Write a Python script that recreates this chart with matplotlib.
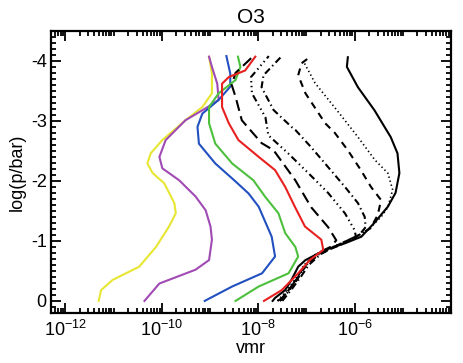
import numpy as np
import matplotlib.pyplot as plt
from matplotlib.ticker import FixedLocator, LogLocator, MultipleLocator, NullFormatter

plt.rcParams['font.family'] = ['Liberation Sans', 'DejaVu Sans']
plt.rcParams['mathtext.fontset'] = 'custom'
plt.rcParams['mathtext.rm'] = 'Liberation Sans'
plt.rcParams['mathtext.default'] = 'regular'
plt.rcParams['axes.unicode_minus'] = False
plt.rcParams['lines.scale_dashes'] = False

# perfiles: log10(vmr) y log10(p/bar)
amarillo_x = [-11.31, -11.26, -11.02, -10.47, -10.12, -9.85, -9.71, -9.74, -9.95,
              -10.19, -10.30, -10.23, -9.99, -9.51, -9.16, -8.96, -8.96, -9.02]
amarillo_p = [0.0, -0.18, -0.35, -0.57, -0.90, -1.24, -1.46, -1.63, -1.96,
              -2.13, -2.29, -2.46, -2.68, -3.01, -3.23, -3.46, -3.79, -4.07]

morado_x = [-10.36, -10.05, -9.30, -9.02, -8.96, -8.99, -9.09, -9.30, -9.64,
            -9.99, -10.05, -9.92, -9.51, -9.09, -8.82, -8.85, -8.96, -9.02]
morado_p = [0.0, -0.29, -0.52, -0.68, -1.02, -1.24, -1.51, -1.74, -2.01,
            -2.21, -2.40, -2.68, -3.01, -3.21, -3.35, -3.62, -3.90, -4.07]

azul_x = [-9.11, -8.54, -7.92, -7.65, -7.72, -7.99, -8.20, -8.47, -8.89,
          -9.23, -9.26, -9.16, -8.82, -8.58, -8.58, -8.66]
azul_p = [0.0, -0.24, -0.46, -0.74, -1.07, -1.57, -1.79, -1.99, -2.29,
          -2.62, -2.90, -3.12, -3.35, -3.57, -3.79, -4.08]

verde_x = [-8.47, -7.99, -7.37, -7.17, -7.23, -7.44, -7.58, -7.86, -8.10,
           -8.54, -8.89, -9.02, -9.02, -8.82, -8.47, -8.37, -8.42]
verde_p = [0.0, -0.24, -0.46, -0.74, -0.90, -1.13, -1.46, -1.74, -2.01,
           -2.29, -2.62, -2.96, -3.23, -3.46, -3.68, -3.90, -4.07]

rojo_x = [-7.88, -7.51, -7.17, -6.93, -6.65, -6.69, -7.03, -7.24, -7.44,
          -7.65, -7.99, -8.41, -8.61, -8.75, -8.75, -8.61, -8.27, -8.06]
rojo_p = [0.0, -0.18, -0.46, -0.68, -0.85, -1.02, -1.24, -1.57, -1.90,
          -2.18, -2.40, -2.68, -2.96, -3.23, -3.62, -3.73, -3.84, -4.07]

# curvas negras
guion_largo_x = [-7.60, -7.50, -7.30, -7.15, -7.00, -6.80, -6.50, -6.38, -6.55,
                 -6.90, -7.23, -7.68, -7.93, -8.34, -8.47, -8.55, -8.47, -8.10]
guion_largo_p = [0.0, -0.05, -0.25, -0.45, -0.62, -0.78, -0.90, -1.01, -1.23,
                 -1.56, -2.01, -2.51, -2.63, -3.01, -3.40, -3.60, -3.80, -4.08]

guion3p_x = [-7.55, -7.45, -7.25, -7.10, -6.95, -6.70, -6.30, -5.97, -6.00,
             -6.20, -6.55, -6.96, -7.38, -7.79, -7.85, -8.13, -8.15, -7.78]
guion3p_p = [0.0, -0.08, -0.28, -0.48, -0.65, -0.80, -0.93, -1.06, -1.18,
             -1.46, -1.80, -2.13, -2.46, -2.76, -3.06, -3.46, -3.73, -4.08]

guion_punto_x = [-7.50, -7.30, -7.10, -6.95, -6.70, -6.30, -5.90, -5.77, -5.79,
                 -5.93, -6.20, -6.55, -6.90, -7.23, -7.31, -7.68, -7.93, -7.89, -7.51]
guion_punto_p = [0.0, -0.20, -0.42, -0.60, -0.78, -0.95, -1.10, -1.23, -1.40,
                 -1.63, -1.90, -2.23, -2.56, -2.85, -2.90, -3.18, -3.56, -3.76, -4.08]

guion_x = [-7.55, -7.35, -7.15, -7.00, -6.75, -6.35, -5.95, -5.67, -5.52, -5.45,
           -5.66, -5.87, -6.14, -6.41, -6.61, -7.02, -7.17, -7.10, -6.90]
guion_p = [0.0, -0.20, -0.42, -0.60, -0.77, -0.93, -1.08, -1.21, -1.43, -1.68,
           -1.90, -2.18, -2.51, -2.80, -2.96, -3.46, -3.76, -3.96, -4.08]

punteado_x = [-7.60, -7.40, -7.20, -7.05, -6.80, -6.40, -6.00, -5.70, -5.45, -5.31,
              -5.21, -5.31, -5.58, -5.93, -6.34, -6.82, -7.04]
punteado_p = [0.0, -0.18, -0.40, -0.60, -0.78, -0.92, -1.05, -1.20, -1.40, -1.56,
              -1.85, -2.13, -2.35, -2.73, -3.15, -3.63, -3.96]

solido_x = [-7.70, -7.65, -7.44, -7.31, -7.17, -7.02, -6.61, -6.20, -5.86, -5.59,
            -5.31, -5.15, -5.07, -5.11, -5.25, -5.59, -5.93, -6.16, -6.14]
solido_p = [0.0, -0.05, -0.18, -0.35, -0.57, -0.68, -0.85, -0.96, -1.07, -1.30,
            -1.57, -1.80, -2.13, -2.46, -2.73, -3.18, -3.56, -3.90, -4.06]

fig = plt.figure(figsize=(4.63, 3.63), dpi=100)
ax = fig.add_axes([0.110, 0.138, 0.864, 0.777])

lw = 1.5
ax.plot(10.0**np.array(amarillo_x), amarillo_p, color='#e6e633', lw=lw)
ax.plot(10.0**np.array(morado_x), morado_p, color='#a04ab4', lw=lw)
ax.plot(10.0**np.array(azul_x), azul_p, color='#2250c0', lw=lw)
ax.plot(10.0**np.array(verde_x), verde_p, color='#4cc03c', lw=lw)

ax.plot(10.0**np.array(guion_largo_x), guion_largo_p, color='k', lw=lw, dashes=(8, 4))
ax.plot(10.0**np.array(guion3p_x), guion3p_p, color='k', lw=lw, dashes=(5, 2.5, 1, 2.5, 1, 2.5, 1, 2.5))
ax.plot(10.0**np.array(guion_punto_x), guion_punto_p, color='k', lw=lw, dashes=(5, 2.5, 1, 2.5))
ax.plot(10.0**np.array(guion_x), guion_p, color='k', lw=lw, dashes=(5, 4))
ax.plot(10.0**np.array(punteado_x), punteado_p, color='k', lw=1.2, dashes=(1, 2))
ax.plot(10.0**np.array(solido_x), solido_p, color='k', lw=lw)
ax.plot(10.0**np.array(rojo_x), rojo_p, color='#e82020', lw=lw)

ax.set_xscale('log')
ax.set_xlim(5e-13, 1e-4)
ax.set_ylim(0.2, -4.5)

ax.xaxis.set_major_locator(FixedLocator([1e-12, 1e-10, 1e-8, 1e-6]))
ax.set_xticklabels([r'$10^{-12}$', r'$10^{-10}$', r'$10^{-8}$', r'$10^{-6}$'])
ax.xaxis.set_minor_locator(LogLocator(base=10, subs=np.arange(1, 10), numticks=50))
ax.xaxis.set_minor_formatter(NullFormatter())
ax.yaxis.set_major_locator(MultipleLocator(1))
ax.yaxis.set_minor_locator(MultipleLocator(0.1))
ax.set_yticklabels([])
ax.set_yticks([-4, -3, -2, -1, 0])
ax.set_yticklabels(['-4', '-3', '-2', '-1', '0'])

ax.tick_params(which='both', direction='in', top=True, right=True, width=1.3, labelsize=13)
ax.tick_params(which='major', length=7)
ax.tick_params(which='minor', length=3.5)
ax.tick_params(axis='x', pad=5)
ax.tick_params(axis='y', pad=3)
for s in ax.spines.values():
    s.set_linewidth(1.6)

ax.set_title('O3', fontsize=15, pad=6)
ax.set_xlabel('vmr', fontsize=13, labelpad=0)
ax.set_ylabel('log(p/bar)', fontsize=13, labelpad=4)

plt.savefig('out.png', dpi=100)
